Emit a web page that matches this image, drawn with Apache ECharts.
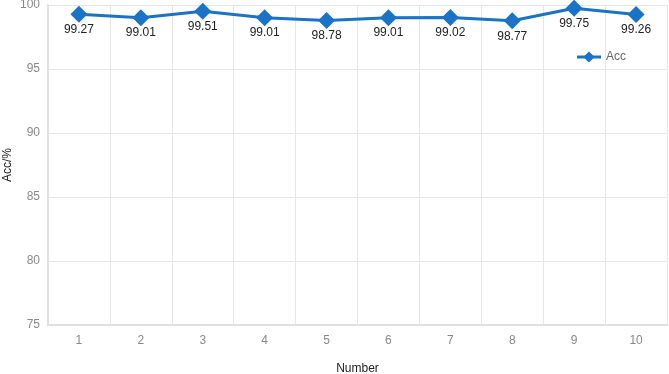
<!DOCTYPE html>
<html>
<head>
<meta charset="utf-8">
<script src="https://cdn.jsdelivr.net/npm/echarts@6/dist/echarts.min.js"></script>
<style>
html, body { margin: 0; padding: 0; background: #fff; }
#chart { width: 669px; height: 374px; }
</style>
</head>
<body>
<div id="chart"></div>
<script>
var categories = ['1', '2', '3', '4', '5', '6', '7', '8', '9', '10'];
var accValues = [99.27, 99.01, 99.51, 99.01, 98.78, 99.01, 99.02, 98.77, 99.75, 99.26];

var option = {
    animation: false,
    grid: {
        top: 5,
        right: 2,
        bottom: 49,
        left: 48,
        containLabel: false,
        outerBoundsMode: 'none'
    },
    legend: {
        data: ['Acc'],
        right: 38,
        top: 46,
        itemWidth: 24,
        itemHeight: 14,
        lineStyle: { width: 3 },
        textStyle: {
            fontSize: 12,
            color: '#666',
            fontFamily: 'Liberation Sans'
        }
    },
    xAxis: {
        type: 'category',
        data: categories,
        name: 'Number',
        nameLocation: 'middle',
        nameGap: 38,
        nameMoveOverlap: false,
        nameTextStyle: { color: '#222', fontSize: 12, fontFamily: 'Liberation Sans' },
        axisLine: { lineStyle: { color: '#e0e0e0', width: 2 } },
        axisTick: { show: false },
        axisLabel: { color: '#888', fontSize: 12, margin: 10, fontFamily: 'Liberation Sans' },
        splitLine: { show: true, lineStyle: { color: '#e6e6e6' } }
    },
    yAxis: {
        type: 'value',
        min: 75,
        max: 100,
        interval: 5,
        name: 'Acc/%',
        nameLocation: 'middle',
        nameGap: 34,
        nameMoveOverlap: false,
        nameTextStyle: { color: '#222', fontSize: 12, fontFamily: 'Liberation Sans' },
        axisLine: { show: true, lineStyle: { color: '#e0e0e0', width: 2 } },
        axisTick: { show: false },
        axisLabel: { color: '#888', fontSize: 12, margin: 8, fontFamily: 'Liberation Sans' },
        splitLine: { show: true, lineStyle: { color: '#e6e6e6' } }
    },
    series: [
        {
            name: 'Acc',
            type: 'line',
            data: accValues,
            symbol: 'diamond',
            symbolSize: 17,
            color: '#1a73c6',
            lineStyle: { width: 3, color: '#1a73c6' },
            label: {
                show: true,
                position: 'bottom',
                distance: 1,
                color: '#222',
                fontSize: 12,
                fontFamily: 'Liberation Sans'
            }
        }
    ]
};

var chart = echarts.init(document.getElementById('chart'));
chart.setOption(option);
</script>
</body>
</html>
